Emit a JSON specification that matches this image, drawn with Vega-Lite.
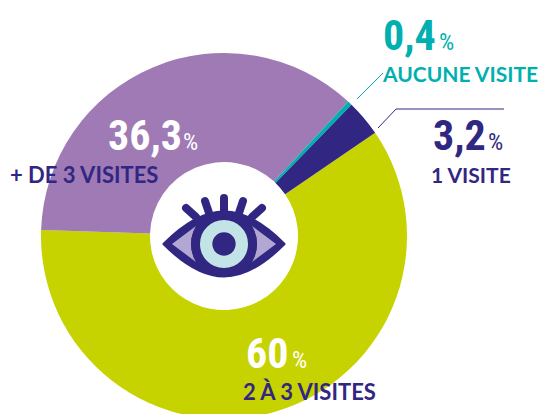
{"$schema":"https://vega.github.io/schema/vega-lite/v6.json","width":541,"height":414,"padding":0,"autosize":{"type":"none"},"background":"#ffffff","view":{"stroke":null},
"config":{"axis":{"domain":false,"grid":false,"ticks":false,"labels":false,"title":null},"text":{"align":"left","baseline":"alphabetic"}},
"data":{"values":[{"categorie":"2 À 3 VISITES","part":60,"ordre":1},{"categorie":"+ DE 3 VISITES","part":36.3,"ordre":2},{"categorie":"AUCUNE VISITE","part":0.4,"ordre":3},{"categorie":"1 VISITE","part":3.2,"ordre":4}]},
"encoding":{"x":{"datum":224,"type":"quantitative","scale":{"domain":[0,541],"range":[0,541]},"axis":null},"y":{"datum":236,"type":"quantitative","scale":{"domain":[0,414],"range":[0,414]},"axis":null}},
"layer":[
{"mark":{"type":"arc","outerRadius":183,"innerRadius":74},"encoding":{"theta":{"field":"part","type":"quantitative","stack":true,"scale":{"domain":[0,99.9],"range":[0.972,7.255]}},"order":{"field":"ordre"},"color":{"field":"categorie","type":"nominal","legend":null,"scale":{"domain":["2 À 3 VISITES","+ DE 3 VISITES","AUCUNE VISITE","1 VISITE"],"range":["#c7d300","#a07ab5","#00b0b0","#312783"]}}}},
{"data":{"values":[{"i":"lashes"}]},"mark":{"type":"point","size":4,"opacity":1,"filled":false,"stroke":"#312783","strokeWidth":8,"strokeCap":"round","shape":"M0,-46L0,-32M-19,-43L-15,-31M19,-43L15,-31M-38,-36L-28,-27M38,-36L28,-27"},"encoding":{"y":{"datum":244,"type":"quantitative"}}},
{"data":{"values":[{"i":"lid"}]},"mark":{"type":"point","size":4,"opacity":1,"filled":true,"fill":"#312783","stroke":"#312783","strokeWidth":3,"strokeJoin":"round","shape":"M-60,0C-40,-20 -20,-32 0,-32C20,-32 40,-20 60,0C40,20 20,32 0,32C-20,32 -40,20 -60,0Z"},"encoding":{"y":{"datum":244,"type":"quantitative"}}},
{"data":{"values":[{"i":"corners"}]},"mark":{"type":"point","size":4,"opacity":1,"filled":true,"fill":"#b2a6d2","strokeWidth":0,"shape":"M-52,0L-28,-18Q-38,0 -28,18ZM52,0L28,-18Q38,0 28,18Z"},"encoding":{"y":{"datum":244,"type":"quantitative"}}},
{"data":{"values":[{"i":"iris"}]},"mark":{"type":"point","shape":"circle","size":3249,"opacity":1,"filled":true,"fill":"#c3e4e6","stroke":"#312783","strokeWidth":9},"encoding":{"y":{"datum":244,"type":"quantitative"}}},
{"data":{"values":[{"i":"pupil"}]},"mark":{"type":"point","shape":"circle","size":544,"opacity":1,"filled":true,"fill":"#312783","strokeWidth":0},"encoding":{"y":{"datum":244,"type":"quantitative"}}},
{"data":{"values":[{"i":"leader"}]},"mark":{"type":"rule","stroke":"#00b0b0","strokeWidth":1},"encoding":{"x":{"datum":357,"type":"quantitative"},"y":{"datum":99,"type":"quantitative"},"x2":{"datum":383},"y2":{"datum":73}}},
{"data":{"values":[{"i":"leader"}]},"mark":{"type":"rule","stroke":"#312783","strokeWidth":1},"encoding":{"x":{"datum":378,"type":"quantitative"},"y":{"datum":128,"type":"quantitative"},"x2":{"datum":396},"y2":{"datum":109}}},
{"data":{"values":[{"i":"leader"}]},"mark":{"type":"rule","stroke":"#312783","strokeWidth":1},"encoding":{"x":{"datum":396,"type":"quantitative"},"y":{"datum":109,"type":"quantitative"},"x2":{"datum":504},"y2":{"datum":109}}},
{"data":{"values":[{"t":"0,4"}]},"mark":{"type":"text","font":"Roboto Condensed, DejaVu Sans Condensed","fontWeight":"bold","fontSize":42,"fill":"#00b0b0"},"encoding":{"text":{"field":"t"},"x":{"datum":383,"type":"quantitative"},"y":{"datum":50,"type":"quantitative"}}},
{"data":{"values":[{"t":"%"}]},"mark":{"type":"text","font":"Roboto Condensed, DejaVu Sans Condensed","fontSize":24,"fill":"#00b0b0"},"encoding":{"text":{"field":"t"},"x":{"datum":439,"type":"quantitative"},"y":{"datum":50,"type":"quantitative"}}},
{"data":{"values":[{"t":"AUCUNE VISITE"}]},"mark":{"type":"text","font":"Lato","fontWeight":"bold","fontSize":21,"fill":"#00b0b0"},"encoding":{"text":{"field":"t"},"x":{"datum":383,"type":"quantitative"},"y":{"datum":82,"type":"quantitative"}}},
{"data":{"values":[{"t":"3,2"}]},"mark":{"type":"text","font":"Roboto Condensed, DejaVu Sans Condensed","fontWeight":"bold","fontSize":42,"fill":"#312783"},"encoding":{"text":{"field":"t"},"x":{"datum":433,"type":"quantitative"},"y":{"datum":150,"type":"quantitative"}}},
{"data":{"values":[{"t":"%"}]},"mark":{"type":"text","font":"Roboto Condensed, DejaVu Sans Condensed","fontSize":24,"fill":"#312783"},"encoding":{"text":{"field":"t"},"x":{"datum":488,"type":"quantitative"},"y":{"datum":150,"type":"quantitative"}}},
{"data":{"values":[{"t":"1 VISITE"}]},"mark":{"type":"text","font":"Lato","fontWeight":"bold","fontSize":21,"fill":"#312783"},"encoding":{"text":{"field":"t"},"x":{"datum":431,"type":"quantitative"},"y":{"datum":183,"type":"quantitative"}}},
{"data":{"values":[{"t":"36,3"}]},"mark":{"type":"text","font":"Roboto Condensed, DejaVu Sans Condensed","fontWeight":"bold","fontSize":42,"fill":"#ffffff"},"encoding":{"text":{"field":"t"},"x":{"datum":108,"type":"quantitative"},"y":{"datum":150,"type":"quantitative"}}},
{"data":{"values":[{"t":"%"}]},"mark":{"type":"text","font":"Roboto Condensed, DejaVu Sans Condensed","fontSize":24,"fill":"#ffffff"},"encoding":{"text":{"field":"t"},"x":{"datum":183,"type":"quantitative"},"y":{"datum":150,"type":"quantitative"}}},
{"data":{"values":[{"t":"+ DE 3 VISITES"}]},"mark":{"type":"text","font":"Lato","fontWeight":"bold","fontSize":22,"fill":"#312783"},"encoding":{"text":{"field":"t"},"x":{"datum":10,"type":"quantitative"},"y":{"datum":183,"type":"quantitative"}}},
{"data":{"values":[{"t":"60"}]},"mark":{"type":"text","font":"Roboto Condensed, DejaVu Sans Condensed","fontWeight":"bold","fontSize":42,"fill":"#ffffff"},"encoding":{"text":{"field":"t"},"x":{"datum":246,"type":"quantitative"},"y":{"datum":368,"type":"quantitative"}}},
{"data":{"values":[{"t":"%"}]},"mark":{"type":"text","font":"Roboto Condensed, DejaVu Sans Condensed","fontSize":24,"fill":"#ffffff"},"encoding":{"text":{"field":"t"},"x":{"datum":292,"type":"quantitative"},"y":{"datum":368,"type":"quantitative"}}},
{"data":{"values":[{"t":"2 À 3 VISITES"}]},"mark":{"type":"text","font":"Lato","fontWeight":"bold","fontSize":22,"fill":"#312783"},"encoding":{"text":{"field":"t"},"x":{"datum":243,"type":"quantitative"},"y":{"datum":400,"type":"quantitative"}}}
]}
